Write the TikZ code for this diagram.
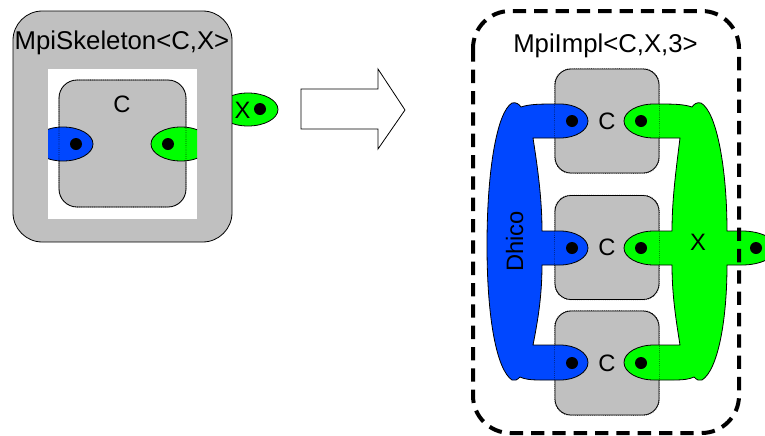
\documentclass[tikz,border=0pt]{standalone}
\usepackage{fontspec}
\setmainfont{Liberation Sans}
\definecolor{boxgray}{RGB}{192,192,192}
\definecolor{dhblue}{RGB}{0,71,255}
\definecolor{xgreen}{RGB}{0,255,0}
\begin{document}
\begin{tikzpicture}[x=0.75pt, y=-0.75pt, line width=0.6pt,
  heading/.style={font=\fontsize{19.3}{22}\selectfont, inner sep=0pt, anchor=base},
  lbl/.style={font=\fontsize{17.8}{20}\selectfont, inner sep=0pt},
  cbox/.style={draw, fill=boxgray, rounded corners=12pt, minimum width=78pt, minimum height=78pt, inner sep=0pt, lbl},
  portdot/.style={fill=black, circle, inner sep=0pt, minimum size=9pt},
  blueport/.style={draw, fill=dhblue},
  greenport/.style={draw, fill=xgreen}]
\useasboundingbox (0,0) rectangle (765,436);

% skeleton
\draw[greenport] (248,109.5) ellipse [x radius=30, y radius=16.5];
\draw[fill=boxgray, rounded corners=22pt] (13,11) rectangle (232,242);
\fill[white] (48,69) rectangle (197,219);
\draw[fill=boxgray, rounded corners=13.5pt] (59,80) rectangle (186,207);
\begin{scope}
  \clip (48,0) rectangle (197,436);
  \draw[blueport] (63,144) ellipse [x radius=30, y radius=17];
  \draw[greenport] (181,144) ellipse [x radius=30, y radius=17];
\end{scope}
\draw[densely dotted, line width=0.4pt, rounded corners=13.5pt] (59,80) rectangle (186,207);
\node[portdot] (sdh) at (76,144) {};
\node[portdot] (sin) at (168,144) {};
\node[portdot] (sout) at (260,109) {};
\node[heading] (skel) at (122,49.3) {MpiSkeleton<C,X>};
\node[lbl, anchor=base] (cname) at (122,112.7) {C};
\node[lbl, anchor=base] (xlbl) at (242.5,118) {X};

% arrow
\draw[fill=white] (301,89) -- (378,89) -- (378,69) -- (405,110) -- (378,149) -- (378,129) -- (301,129) -- cycle;

% implementation
\node[cbox] (c1) at (607,121) {C};
\node[cbox] (c2) at (607,247.5) {C};
\node[cbox] (c3) at (607,363) {C};

\draw[fill=dhblue]
  (521,107) .. controls (530,104) and (540,104) .. (560,104)
  arc[start angle=-90, end angle=90, x radius=28, y radius=17]
  -- (533,138) .. controls (538,170) and (542,200) .. (542,231)
  -- (560,231) arc[start angle=-90, end angle=90, x radius=28, y radius=17]
  -- (542,265) .. controls (542,295) and (538,320) .. (533,345)
  -- (560,345) arc[start angle=-90, end angle=90, x radius=28, y radius=17.5]
  -- (540,380) .. controls (530,380) and (524,379) .. (520,377)
  .. controls (517,380) and (515,381) .. (512,380)
  .. controls (497,370) and (487,320) .. (487,245)
  .. controls (487,170) and (497,112) .. (512,103)
  .. controls (516,102) and (519,104) .. (521,107) -- cycle;

\draw[fill=xgreen]
  (692,107) .. controls (683,104) and (673,104) .. (654,104)
  arc[start angle=-90, end angle=-270, x radius=30, y radius=17]
  -- (680,138) .. controls (676,170) and (672,200) .. (672,231)
  -- (654,231) arc[start angle=-90, end angle=-270, x radius=30, y radius=17]
  -- (672,265) .. controls (672,295) and (676,320) .. (680,345)
  -- (654,345) arc[start angle=-90, end angle=-270, x radius=30, y radius=17.5]
  -- (674,380) .. controls (684,380) and (690,379) .. (694,377)
  .. controls (697,380) and (699,381) .. (702,380)
  .. controls (718,370) and (727,320) .. (727,265)
  -- (742,265) arc[start angle=90, end angle=-90, x radius=34, y radius=17]
  -- (727,231) .. controls (727,170) and (717,112) .. (701,103)
  .. controls (697,102) and (694,104) .. (692,107) -- cycle;

\foreach \c in {c1,c2,c3}
  \draw[densely dotted, line width=0.4pt, rounded corners=12pt] (\c.north west) rectangle (\c.south east);

\foreach \r/\y in {1/121,2/248,3/363} {
  \node[portdot] (dh\r) at (572,\y) {};
  \node[portdot] (xp\r) at (641,\y) {};
}
\node[portdot] (xout) at (756,248) {};

\node[lbl, rotate=90, anchor=base] (dhico) at (523,241.5) {Dhico};
\node[lbl, anchor=base] (xname) at (698,250) {X};

\draw[line width=3pt, dash pattern=on 10pt off 6pt, rounded corners=28pt] (473,11) rectangle (739,433);
\node[heading] (impl) at (605.5,52.7) {MpiImpl<C,X,3>};
\end{tikzpicture}
\end{document}
